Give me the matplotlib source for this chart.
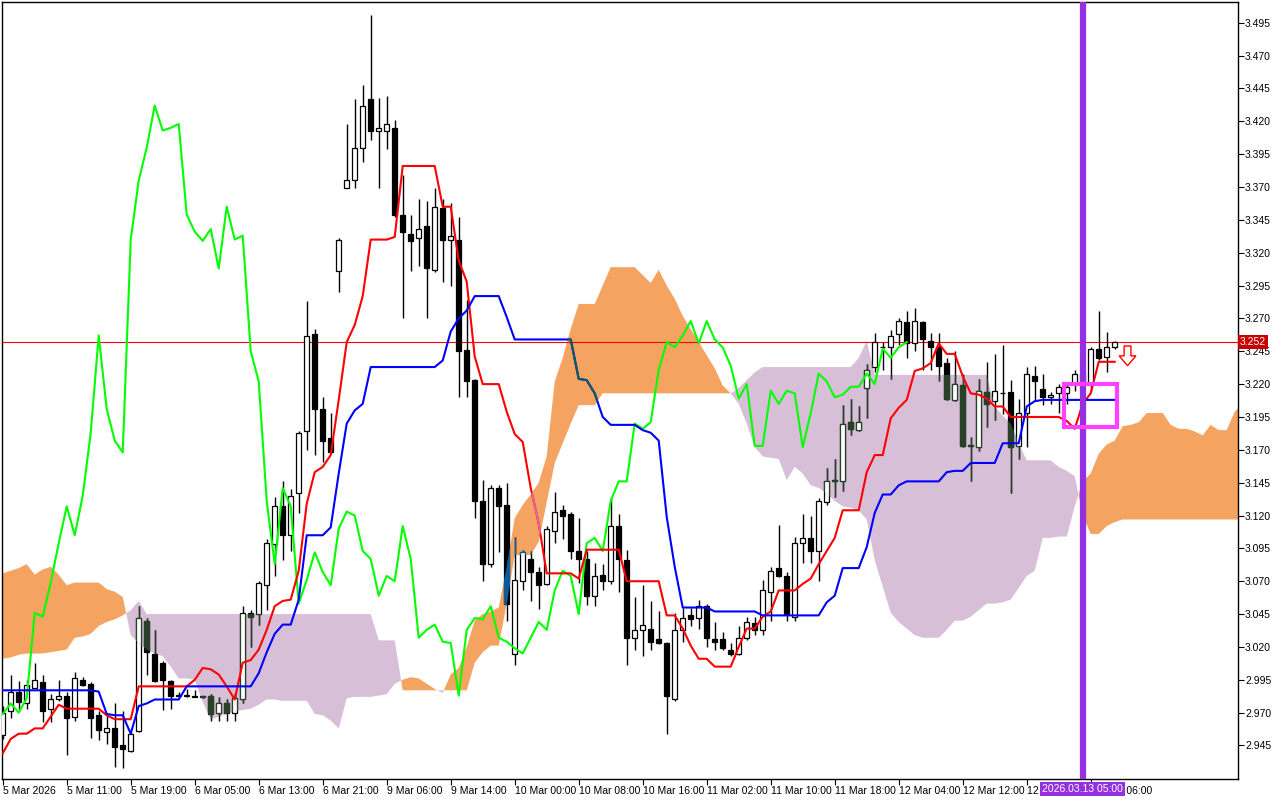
import numpy as np
import matplotlib
matplotlib.use('Agg')
import matplotlib.pyplot as plt
from matplotlib.patches import Rectangle, FancyArrow
from matplotlib.path import Path
from matplotlib.transforms import blended_transform_factory

plt.rcParams['font.family'] = ['Liberation Sans', 'DejaVu Sans']

# hourly candles, bar 0 .. 139
opens = [
    2.953, 2.971, 2.986, 2.977, 2.989, 2.993, 2.973, 2.980, 2.983, 2.967,
    2.995, 2.992, 2.968, 2.955, 2.958, 2.945, 2.941, 2.956, 3.040, 3.015,
    3.008, 2.994, 2.983, 2.983, 2.983, 2.982, 2.983, 2.970, 2.977, 2.970,
    2.980, 3.046, 3.045, 3.067, 3.098, 3.127, 3.105, 3.137, 3.184, 3.258,
    3.201, 3.179, 3.306, 3.369, 3.375, 3.400, 3.437, 3.413, 3.413, 3.415,
    3.349, 3.334, 3.331, 3.340, 3.307, 3.354, 3.330, 3.330, 3.246, 3.223,
    3.131, 3.083, 3.141, 3.128, 3.015, 3.070, 3.087, 3.077, 3.068, 3.108,
    3.124, 3.121, 3.093, 3.087, 3.059, 3.075, 3.070, 3.112, 3.086, 3.027,
    3.033, 3.034, 3.026, 3.023, 2.980, 3.033, 3.044, 3.042, 3.051, 3.026,
    3.026, 3.018, 3.015, 3.027, 3.038, 3.033, 3.062, 3.080, 3.074, 3.043,
    3.099, 3.103, 3.093, 3.130, 3.147, 3.146, 3.191, 3.185, 3.217, 3.233,
    3.248, 3.248, 3.258, 3.267, 3.251, 3.267, 3.253, 3.248, 3.236, 3.208,
    3.219, 3.173, 3.172, 3.214, 3.207, 3.213, 3.214, 3.173, 3.198, 3.226,
    3.216, 3.210, 3.213, 3.213, 3.221, 3.228, 3.219, 3.247, 3.241, 3.248,
]
highs = [
    2.975, 2.999, 2.994, 2.995, 3.008, 2.999, 2.984, 2.995, 2.986, 3.001,
    2.997, 2.993, 2.971, 2.968, 2.977, 2.971, 2.955, 3.051, 3.042, 3.033,
    3.009, 2.995, 2.986, 2.988, 2.987, 2.983, 2.984, 2.982, 2.980, 2.985,
    3.051, 3.048, 3.070, 3.102, 3.134, 3.146, 3.140, 3.184, 3.283, 3.262,
    3.210, 3.198, 3.331, 3.418, 3.437, 3.448, 3.501, 3.438, 3.439, 3.421,
    3.379, 3.349, 3.361, 3.359, 3.369, 3.361, 3.358, 3.347, 3.284, 3.224,
    3.147, 3.143, 3.143, 3.145, 3.104, 3.094, 3.093, 3.081, 3.112, 3.138,
    3.128, 3.123, 3.118, 3.093, 3.084, 3.083, 3.134, 3.121, 3.094, 3.058,
    3.067, 3.055, 3.047, 3.024, 3.046, 3.050, 3.050, 3.056, 3.053, 3.039,
    3.031, 3.023, 3.036, 3.043, 3.043, 3.071, 3.081, 3.113, 3.077, 3.104,
    3.121, 3.120, 3.133, 3.156, 3.163, 3.204, 3.209, 3.203, 3.235, 3.259,
    3.252, 3.261, 3.270, 3.276, 3.278, 3.268, 3.259, 3.259, 3.240, 3.245,
    3.228, 3.180, 3.224, 3.237, 3.243, 3.250, 3.223, 3.209, 3.233, 3.234,
    3.228, 3.214, 3.220, 3.219, 3.231, 3.232, 3.248, 3.276, 3.260, 3.253,
]
lows = [
    2.950, 2.966, 2.973, 2.973, 2.989, 2.963, 2.963, 2.979, 2.938, 2.964,
    2.990, 2.951, 2.949, 2.946, 2.929, 2.928, 2.940, 2.955, 2.999, 2.993,
    2.972, 2.973, 2.982, 2.982, 2.982, 2.981, 2.964, 2.964, 2.964, 2.964,
    2.977, 3.020, 3.037, 3.048, 3.074, 3.086, 3.093, 3.122, 3.170, 3.166,
    3.161, 3.167, 3.290, 3.369, 3.369, 3.389, 3.406, 3.369, 3.399, 3.347,
    3.270, 3.306, 3.310, 3.270, 3.305, 3.298, 3.295, 3.210, 3.210, 3.118,
    3.070, 3.081, 3.092, 3.040, 3.006, 3.063, 3.055, 3.049, 3.067, 3.099,
    3.102, 3.087, 3.069, 3.052, 3.051, 3.063, 3.068, 3.062, 3.006, 3.018,
    3.013, 3.018, 3.022, 2.954, 2.979, 3.024, 3.036, 3.034, 3.020, 3.018,
    3.018, 3.013, 3.014, 3.025, 3.029, 3.029, 3.040, 3.073, 3.040, 3.040,
    3.084, 3.084, 3.070, 3.128, 3.134, 3.139, 3.181, 3.184, 3.194, 3.229,
    3.231, 3.224, 3.250, 3.240, 3.245, 3.231, 3.231, 3.222, 3.208, 3.207,
    3.172, 3.146, 3.169, 3.187, 3.193, 3.197, 3.137, 3.163, 3.172, 3.207,
    3.204, 3.205, 3.198, 3.205, 3.215, 3.215, 3.215, 3.238, 3.229, 3.247,
]
closes = [
    2.970, 2.986, 2.978, 2.991, 2.995, 2.971, 2.980, 2.983, 2.966, 2.996,
    2.991, 2.966, 2.957, 2.958, 2.944, 2.942, 2.954, 3.042, 3.016, 2.994,
    2.995, 2.983, 2.983, 2.983, 2.982, 2.982, 2.969, 2.977, 2.970, 2.981,
    3.046, 3.043, 3.069, 3.099, 3.127, 3.105, 3.135, 3.183, 3.257, 3.201,
    3.177, 3.168, 3.330, 3.375, 3.400, 3.432, 3.413, 3.415, 3.418, 3.349,
    3.336, 3.329, 3.338, 3.308, 3.355, 3.330, 3.333, 3.245, 3.222, 3.131,
    3.083, 3.141, 3.127, 3.053, 3.071, 3.092, 3.077, 3.067, 3.110, 3.123,
    3.120, 3.093, 3.087, 3.059, 3.074, 3.070, 3.112, 3.087, 3.027, 3.033,
    3.037, 3.024, 3.023, 2.983, 3.033, 3.042, 3.041, 3.051, 3.027, 3.024,
    3.019, 3.015, 3.027, 3.039, 3.033, 3.063, 3.078, 3.074, 3.045, 3.099,
    3.103, 3.093, 3.131, 3.146, 3.146, 3.190, 3.186, 3.191, 3.231, 3.252,
    3.248, 3.257, 3.268, 3.251, 3.268, 3.254, 3.248, 3.234, 3.209, 3.220,
    3.173, 3.173, 3.215, 3.205, 3.215, 3.213, 3.172, 3.198, 3.228, 3.222,
    3.210, 3.212, 3.218, 3.218, 3.228, 3.220, 3.247, 3.240, 3.248, 3.252,
]

# Ichimoku lines
tenkan = [
    2.939, 2.950, 2.954, 2.954, 2.958, 2.958, 2.967, 2.976, 2.973, 2.973,
    2.973, 2.973, 2.973, 2.968, 2.965, 2.965, 2.965, 2.990, 2.990, 2.990,
    2.990, 2.990, 2.990, 2.990, 2.995, 3.004, 3.003, 2.999, 2.990, 2.980,
    3.008, 3.010, 3.018, 3.033, 3.051, 3.055, 3.056, 3.078, 3.129, 3.153,
    3.157, 3.166, 3.208, 3.252, 3.265, 3.287, 3.330, 3.330, 3.330, 3.332,
    3.386, 3.386, 3.386, 3.386, 3.386, 3.355, 3.355, 3.314, 3.298, 3.241,
    3.220, 3.220, 3.220, 3.199, 3.182, 3.176, 3.141, 3.114, 3.076, 3.076,
    3.076, 3.076, 3.072, 3.094, 3.094, 3.094, 3.094, 3.094, 3.070, 3.070,
    3.070, 3.070, 3.070, 3.044, 3.044, 3.034, 3.021, 3.011, 3.011, 3.005,
    3.005, 3.005, 3.020, 3.034, 3.034, 3.043, 3.047, 3.063, 3.063, 3.063,
    3.068, 3.072, 3.083, 3.093, 3.103, 3.124, 3.124, 3.124, 3.153, 3.166,
    3.166, 3.194, 3.202, 3.208, 3.230, 3.232, 3.236, 3.251, 3.243, 3.243,
    3.226, 3.213, 3.212, 3.209, 3.203, 3.203, 3.195, 3.195, 3.195, 3.195,
    3.195, 3.195, 3.195, 3.192, 3.186, 3.205, 3.213, 3.237, 3.237, 3.237,
]
kijun = [
    2.987, 2.987, 2.987, 2.987, 2.987, 2.987, 2.987, 2.987, 2.987, 2.987,
    2.987, 2.987, 2.986, 2.969, 2.968, 2.968, 2.954, 2.975, 2.977, 2.980,
    2.980, 2.980, 2.980, 2.990, 2.990, 2.990, 2.990, 2.990, 2.990, 2.990,
    2.990, 2.990, 3.000, 3.016, 3.030, 3.037, 3.037, 3.056, 3.105, 3.105,
    3.105, 3.111, 3.152, 3.190, 3.200, 3.205, 3.233, 3.233, 3.233, 3.233,
    3.233, 3.233, 3.233, 3.233, 3.233, 3.238, 3.260, 3.270, 3.276, 3.287,
    3.287, 3.287, 3.287, 3.271, 3.254, 3.254, 3.254, 3.254, 3.254, 3.254,
    3.254, 3.254, 3.224, 3.223, 3.213, 3.195, 3.189, 3.189, 3.189, 3.189,
    3.185, 3.183, 3.177, 3.119, 3.081, 3.050, 3.050, 3.050, 3.050, 3.047,
    3.047, 3.047, 3.047, 3.047, 3.047, 3.044, 3.044, 3.044, 3.044, 3.044,
    3.044, 3.044, 3.044, 3.054, 3.059, 3.080, 3.080, 3.080, 3.096, 3.122,
    3.136, 3.136, 3.143, 3.146, 3.146, 3.146, 3.146, 3.146, 3.153, 3.154,
    3.154, 3.160, 3.160, 3.160, 3.160, 3.175, 3.175, 3.175, 3.203, 3.207,
    3.208, 3.208, 3.208, 3.208, 3.208, 3.208, 3.208, 3.208, 3.208, 3.208,
]
# cloud edges, bar 0 .. 155 (runs 26 bars past the last candle)
span_a = [
    3.076, 3.078, 3.080, 3.083, 3.075, 3.079, 3.081, 3.075, 3.067, 3.069,
    3.069, 3.069, 3.069, 3.064, 3.062, 3.058, 3.029, 3.023, 3.018, 3.015,
    3.013, 3.005, 2.996, 2.996, 2.995, 2.978, 2.965, 2.967, 2.969, 2.971,
    2.972, 2.973, 2.976, 2.980, 2.980, 2.979, 2.979, 2.979, 2.979, 2.969,
    2.968, 2.964, 2.958, 2.981, 2.982, 2.982, 2.982, 2.983, 2.984, 2.992,
    2.995, 2.997, 2.996, 2.992, 2.988, 2.985, 2.999, 3.004, 3.020, 3.040,
    3.045, 3.047, 3.050, 3.081, 3.118, 3.128, 3.136, 3.145, 3.165, 3.222,
    3.240, 3.262, 3.281, 3.281, 3.281, 3.295, 3.309, 3.309, 3.309, 3.309,
    3.303, 3.297, 3.307, 3.295, 3.285, 3.272, 3.262, 3.252, 3.242, 3.232,
    3.219, 3.213, 3.205, 3.190, 3.172, 3.165, 3.164, 3.163, 3.147, 3.157,
    3.152, 3.143, 3.141, 3.137, 3.131, 3.127, 3.126, 3.124, 3.117, 3.086,
    3.066, 3.046, 3.039, 3.034, 3.029, 3.027, 3.027, 3.027, 3.033, 3.040,
    3.040, 3.043, 3.048, 3.053, 3.053, 3.054, 3.056, 3.065, 3.074, 3.078,
    3.103, 3.103, 3.104, 3.104, 3.127, 3.146, 3.152, 3.167, 3.174, 3.177,
    3.188, 3.189, 3.191, 3.198, 3.198, 3.198, 3.189, 3.186, 3.186, 3.184,
    3.181, 3.189, 3.185, 3.185, 3.199, 3.205,
]
span_b = [
    3.011, 3.012, 3.014, 3.015, 3.015, 3.015, 3.016, 3.017, 3.018, 3.027,
    3.028, 3.030, 3.036, 3.039, 3.041, 3.044, 3.048, 3.055, 3.045, 3.045,
    3.045, 3.045, 3.045, 3.045, 3.045, 3.045, 3.045, 3.045, 3.045, 3.045,
    3.045, 3.045, 3.045, 3.045, 3.045, 3.045, 3.045, 3.045, 3.045, 3.045,
    3.045, 3.045, 3.045, 3.045, 3.045, 3.045, 3.045, 3.025, 3.025, 3.025,
    2.987, 2.987, 2.987, 2.987, 2.987, 2.987, 2.987, 2.987, 2.987, 3.008,
    3.016, 3.021, 3.021, 3.053, 3.090, 3.090, 3.090, 3.100, 3.130, 3.160,
    3.175, 3.190, 3.204, 3.204, 3.204, 3.213, 3.213, 3.213, 3.213, 3.213,
    3.213, 3.213, 3.213, 3.213, 3.213, 3.213, 3.213, 3.213, 3.213, 3.213,
    3.213, 3.213, 3.217, 3.223, 3.229, 3.233, 3.233, 3.233, 3.233, 3.233,
    3.233, 3.233, 3.233, 3.233, 3.233, 3.233, 3.233, 3.240, 3.253, 3.227,
    3.227, 3.227, 3.227, 3.227, 3.227, 3.227, 3.227, 3.227, 3.227, 3.227,
    3.227, 3.227, 3.227, 3.227, 3.203, 3.196, 3.190, 3.175, 3.162, 3.162,
    3.162, 3.162, 3.157, 3.154, 3.150, 3.120, 3.106, 3.106, 3.112, 3.115,
    3.117, 3.117, 3.117, 3.117, 3.117, 3.117, 3.117, 3.117, 3.117, 3.117,
    3.117, 3.117, 3.117, 3.117, 3.117, 3.117,
]
chikou_shift = 26

xtick_bars = [0, 8, 16, 24, 32, 40, 48, 56, 64, 72, 80, 88, 96, 104, 112, 120, 128, 136]
xtick_labels = ['5 Mar 2026', '5 Mar 11:00', '5 Mar 19:00', '6 Mar 05:00', '6 Mar 13:00',
                '6 Mar 21:00', '9 Mar 06:00', '9 Mar 14:00', '10 Mar 00:00', '10 Mar 08:00',
                '10 Mar 16:00', '11 Mar 02:00', '11 Mar 10:00', '11 Mar 18:00', '12 Mar 04:00',
                '12 Mar 12:00', '12 Mar 20:00', '13 Mar 06:00']
ytick_values = [2.945, 2.970, 2.995, 3.020, 3.045, 3.070, 3.095, 3.120, 3.145, 3.170, 3.195,
                3.220, 3.245, 3.270, 3.295, 3.320, 3.345, 3.370, 3.395, 3.420, 3.445, 3.470, 3.495]

last_price = 3.252
now_bar = 135
now_label = '2026.03.13 05:00'
box_bars = (132.7, 139.25)
box_prices = (3.187, 3.220)
arrow_bar = 140.6
arrow_top, arrow_bottom = 3.249, 3.234

ORANGE = '#F4A460'
THISTLE = '#D8BFD8'


fig = plt.figure(figsize=(12.8, 8), dpi=100)
ax = fig.add_axes([2/1280, 21/800, 1236/1280, 777/800])

o = np.array(opens); h = np.array(highs); l = np.array(lows); c = np.array(closes)
x = np.arange(len(c))

# cloud
a = np.array(span_a); b = np.array(span_b)
xc = np.arange(len(a))
up_cloud = ax.fill_between(xc, a, b, where=a >= b, interpolate=True, color=ORANGE, lw=0, zorder=1)
dn_cloud = ax.fill_between(xc, a, b, where=a < b, interpolate=True, color=THISTLE, lw=0, zorder=1)
up_path = Path.make_compound_path(*up_cloud.get_paths())
dn_path = Path.make_compound_path(*dn_cloud.get_paths())

ax.axhline(last_price, color='#FF0000', lw=0.8, zorder=2)

# candles; the parts that sit on the cloud show in the inverted cloud colour
up = c >= o
body_lo = np.minimum(o, c)
body_h = np.maximum(np.abs(c - o), 0.0004)


def draw_candles(col, clip=None, z=3):
    wicks = ax.vlines(x, l, h, color=col, lw=1, zorder=z)
    bodies = ax.bar(x, body_h, bottom=body_lo, width=0.62,
                    color=np.where(up, 'white', col), edgecolor=col, lw=0.9, zorder=z + 0.5)
    if clip is not None:
        wicks.set_clip_path(clip, ax.transData)
        for p in bodies:
            p.set_clip_path(clip, ax.transData)


draw_candles('black')
draw_candles('#274027', dn_path, z=3.6)
draw_candles('#0B5B9F', up_path, z=3.6)

# lines
ax.plot(x[:len(c) - chikou_shift], c[chikou_shift:], color='#00FF00', lw=1.5, zorder=5)
ax.plot(x, tenkan, color='#FF0000', lw=1.5, zorder=5)
ax.plot(x, kijun, color='#0000FF', lw=1.5, zorder=5)
t2, = ax.plot(x, tenkan, color='#E8609C', lw=1.5, zorder=5.1)
t2.set_clip_path(up_path, ax.transData)
k2, = ax.plot(x, kijun, color='#0B5B60', lw=1.5, zorder=5.1)
k2.set_clip_path(up_path, ax.transData)

ax.axvline(now_bar, color='#9430E0', lw=4.5, zorder=6)

ax.add_patch(Rectangle((box_bars[0], box_prices[0]), box_bars[1] - box_bars[0],
                       box_prices[1] - box_prices[0], fill=False,
                       ec='#FF40FF', lw=3, zorder=7))
ax.add_patch(FancyArrow(arrow_bar, arrow_top, 0, arrow_bottom - arrow_top, width=0.85,
                        head_width=2.1, head_length=0.0075, length_includes_head=True,
                        fc='white', ec='#FF0000', lw=1, zorder=7))

ax.set_xlim(-0.09, 154.41)
ax.set_ylim(2.9195, 3.5108)

ax.yaxis.tick_right()
ax.set_yticks(ytick_values)
ax.set_yticklabels(['%.3f' % v for v in ytick_values])
ax.tick_params(axis='y', direction='out', length=4, width=0.8, labelsize=7.5, pad=1)
ax.set_xticks(xtick_bars)
ax.set_xticklabels(xtick_labels, ha='left')
ax.tick_params(axis='x', direction='out', length=4, width=0.8, labelsize=7.5, pad=1)
for s in ax.spines.values():
    s.set_color('black')
    s.set_linewidth(1)

tr = blended_transform_factory(ax.transAxes, ax.transData)
ax.text(1.0015, last_price, '3.252', transform=tr, color='white', fontsize=7.5,
        va='center', ha='left', zorder=10, clip_on=False,
        bbox=dict(fc='#C80000', ec='none', pad=1.5))

tr2 = blended_transform_factory(ax.transData, ax.transAxes)
ax.text(now_bar, -0.0125, now_label, transform=tr2, color='white', fontsize=7.5,
        va='center', ha='center', zorder=10, clip_on=False,
        bbox=dict(fc='#9430E0', ec='none', pad=1.5))

plt.savefig('out.png', dpi=100)
